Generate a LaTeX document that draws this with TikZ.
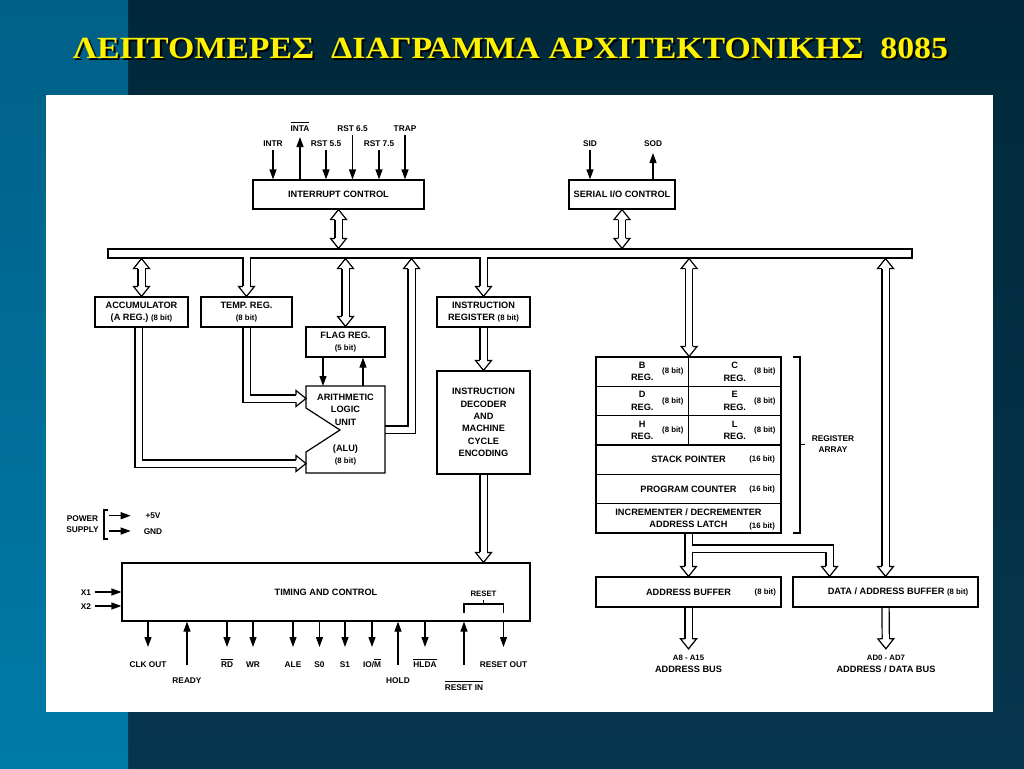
\documentclass[tikz,border=0pt]{standalone}
\usepackage{fontspec}
\usepackage{graphicx}
\usepackage{tikz}
\usetikzlibrary{arrows.meta,positioning}
\setsansfont{Liberation Sans}
\newfontfamily\titlefont{Liberation Serif}
\newcommand\lab{\sffamily\bfseries\fontsize{9.2}{12.4}\selectfont}
\newcommand\sgf{\sffamily\bfseries\fontsize{8.3}{11}\selectfont}
\newcommand\bitf{\fontsize{7.8}{9}\selectfont}
\newcommand\ovl[1]{\leavevmode\vbox{\hrule height 1pt\kern 1.8pt\hbox{#1}}}
\newcommand\titletext{\resizebox{875pt}{20.5pt}{\titlefont\bfseries ΛΕΠΤΟΜΕΡΕΣ\ \ ΔΙΑΓΡΑΜΜΑ ΑΡΧΙΤΕΚΤΟΝΙΚΗΣ\ \ 8085}}
\definecolor{navytop}{RGB}{0,40,58}
\definecolor{navybot}{RGB}{6,54,78}
\definecolor{striptop}{RGB}{0,96,136}
\definecolor{stripbot}{RGB}{0,122,168}
% open head for the double-line busses
\pgfdeclarearrow{
  name = Hollow,
  setup code = {
    \pgfarrowssettipend{0pt}
    \pgfarrowssetlineend{-10pt}
    \pgfarrowssetbackend{-10.6pt}
    \pgfarrowssetvisualbackend{-10pt}
    \pgfarrowsupperhullpoint{-10.6pt}{8.6pt}
    \pgfarrowsupperhullpoint{0pt}{0pt}
  },
  drawing code = {
    \pgfsetlinewidth{1.2pt}
    \pgfsetmiterjoin
    \pgfpathmoveto{\pgfqpoint{-10pt}{3.6pt}}
    \pgfpathlineto{\pgfqpoint{-10pt}{8pt}}
    \pgfpathlineto{\pgfqpoint{0pt}{0pt}}
    \pgfpathlineto{\pgfqpoint{-10pt}{-8pt}}
    \pgfpathlineto{\pgfqpoint{-10pt}{-3.6pt}}
    \pgfusepathqstroke
  }
}
\pgfdeclarelayer{bglayer}
\pgfdeclarelayer{edgelayer}
\pgfdeclarelayer{nodelayer}
\pgfsetlayers{bglayer,edgelayer,nodelayer,main}
\tikzstyle{box}=[draw=black, fill=white, line width=1.2pt, inner sep=1pt, align=center, font=\lab]
\tikzstyle{lbl}=[inner sep=0pt, align=center, font=\sgf]
\tikzstyle{sgl}=[inner sep=0pt, font=\sgf, text height=6pt, text depth=0pt]
\tikzstyle{bit}=[inner sep=0pt, font=\lab\bitf]
\tikzstyle{wire}=[draw=black, line width=1.2pt]
\tikzstyle{sig}=[draw=black, line width=1.2pt, -{Triangle[length=10pt,width=7pt]}]
\tikzstyle{pipe}=[draw=black, line width=1.2pt, double=white, double distance=6pt, -Hollow]
\tikzstyle{dbl}=[style=pipe, Hollow-Hollow]

\begin{document}
\begin{tikzpicture}[x=1pt, y=-1pt]
	\useasboundingbox (0, 0) rectangle (1024, 768);
	\begin{pgfonlayer}{bglayer}
		\shade [top color=navytop, bottom color=navybot] (0, 0) rectangle (1024, 768);
		\shade [top color=striptop, bottom color=stripbot] (0, 0) rectangle (128, 768);
		\fill [white] (46, 95) rectangle (993, 712);
		\node [inner sep=0pt, text=black] (shadow) at (512.5, 50) {\titletext};
		\node [inner sep=0pt, text=yellow] (title) at (510.5, 48) {\titletext};
	\end{pgfonlayer}
	\begin{pgfonlayer}{nodelayer}
		% interrupt and serial blocks
		\node [style=box, minimum width=171pt, minimum height=29pt] (ic) at (338.5, 194.5) {INTERRUPT CONTROL};
		\node [style=box, minimum width=106pt, minimum height=29pt] (sio) at (622, 194.5) {SERIAL I/O CONTROL};
		\node [style=sgl] (intr) at (273, 143) {INTR};
		\node [style=sgl] (inta) at (300, 128) {\ovl{INTA}};
		\node [style=sgl] (rst55) at (326, 143) {RST 5.5};
		\node [style=sgl] (rst65) at (352.5, 128) {RST 6.5};
		\node [style=sgl] (rst75) at (379, 143) {RST 7.5};
		\node [style=sgl] (trap) at (405, 128) {TRAP};
		\node [style=sgl] (sid) at (590, 143) {SID};
		\node [style=sgl] (sod) at (653, 143) {SOD};
		% accumulator, temp, flags, alu
		\node [style=box, minimum width=93pt, minimum height=30pt] (acc) at (141.5, 312) {ACCUMULATOR\\(A REG.) {\bitf (8 bit)}};
		\node [style=box, minimum width=91pt, minimum height=30pt] (temp) at (246.5, 312) {TEMP. REG.\\{\bitf (8 bit)}};
		\node [style=box, minimum width=79pt, minimum height=30pt] (flag) at (345.5, 342) {FLAG REG.\\{\bitf (5 bit)}};
		\node [style=box, draw=none, fill=none, outer sep=0pt, minimum width=79pt, minimum height=87pt] (alu) at (345.5, 429.5) {ARITHMETIC\\LOGIC\\UNIT\\[13.5pt](ALU)\\{\bitf (8 bit)}};
		\draw [style=wire] (alu.north west) -- (alu.north east) -- (alu.south east) -- (alu.south west) -- ++(0, -21) -- ++(34, -22) -- ++(-34, -22) -- cycle;
		% instruction path
		\node [style=box, minimum width=93pt, minimum height=30pt] (ir) at (483.5, 312) {INSTRUCTION\\REGISTER {\bitf (8 bit)}};
		\node [style=box, minimum width=93pt, minimum height=103pt] (dec) at (483.5, 422.5) {INSTRUCTION\\DECODER\\AND\\MACHINE\\CYCLE\\ENCODING};
		% register array
		\node [style=box, minimum width=92.5pt, minimum height=29.33pt] (regb) at (642.25, 371.67) {B\\REG.};
		\node [style=box, minimum width=92.5pt, minimum height=29.33pt] (regc) at (734.75, 371.67) {C\\REG.};
		\node [style=box, minimum width=92.5pt, minimum height=29.33pt] (regd) at (642.25, 401) {D\\REG.};
		\node [style=box, minimum width=92.5pt, minimum height=29.33pt] (rege) at (734.75, 401) {E\\REG.};
		\node [style=box, minimum width=92.5pt, minimum height=29.33pt] (regh) at (642.25, 430.33) {H\\REG.};
		\node [style=box, minimum width=92.5pt, minimum height=29.33pt] (regl) at (734.75, 430.33) {L\\REG.};
		\node [style=box, minimum width=185pt, minimum height=29.33pt] (sp) at (688.5, 459.67) {STACK POINTER};
		\node [style=box, minimum width=185pt, minimum height=29.33pt] (pc) at (688.5, 489) {PROGRAM COUNTER};
		\node [style=box, minimum width=185pt, minimum height=29.33pt] (inc) at (688.5, 518.33) {INCREMENTER / DECREMENTER\\ADDRESS LATCH};
		\node [style=bit, left=5.5pt of regb.east] (bitb) {(8 bit)};
		\node [style=bit, left=6pt of regc.east] (bitc) {(8 bit)};
		\node [style=bit, left=5.5pt of regd.east] (bitd) {(8 bit)};
		\node [style=bit, left=6pt of rege.east] (bite) {(8 bit)};
		\node [style=bit, left=5.5pt of regh.east] (bith) {(8 bit)};
		\node [style=bit, left=6pt of regl.east] (bitl) {(8 bit)};
		\node [style=bit, left=6.5pt of sp.east] (bitsp) {(16 bit)};
		\node [style=bit, left=6.5pt of pc.east] (bitpc) {(16 bit)};
		\node [style=bit, left=6.5pt of inc.east, yshift=-8.4pt] (bitinc) {(16 bit)};
		\node [style=lbl] (regarr) at (833, 444.5) {REGISTER\\ARRAY};
		\draw [style=wire] (793, 357) -| (800, 533) -- (793, 533) (800, 444.5) -- (805, 444.5);
		% buffers
		\node [style=box, minimum width=185pt, minimum height=30pt] (ab) at (688.5, 592) {ADDRESS BUFFER};
		\node [style=bit, left=5.5pt of ab.east] (bitab) {(8 bit)};
		\node [style=box, minimum width=185pt, minimum height=30pt] (dab) at (885.5, 592) {\hspace*{25pt}DATA / ADDRESS BUFFER {\bitf (8 bit)}};
		\node [inner sep=0pt, align=center, font=\lab] (abus) at (688.5, 664) {{\bitf A8 - A15}\\ADDRESS BUS};
		\node [inner sep=0pt, align=center, font=\lab] (dbus) at (886, 664) {{\bitf AD0 - AD7}\\ADDRESS / DATA BUS};
		% timing and control
		\node [style=box, minimum width=408pt, minimum height=58pt] (tc) at (326, 592) {TIMING AND CONTROL};
		\node [style=lbl, font=\sgf\bitf] (reset) at (483.5, 594) {RESET};
		\draw [style=wire] (464, 613) |- (503.5, 604) -- (503.5, 613) (483.5, 604) -- (483.5, 600);
		\node [style=lbl] (pwr) at (82.5, 524.5) {POWER\\SUPPLY};
		\draw [style=wire] (108, 510) -| (104, 539) -- (108, 539);
		\node [style=sgl] (vcc) at (153, 515.7) {+5V};
		\node [style=sgl] (gnd) at (153, 531) {GND};
		\node [style=sgl] (x1) at (86, 592) {X1};
		\node [style=sgl] (x2) at (86, 606) {X2};
		\node [style=sgl] (clkout) at (148, 664) {CLK OUT};
		\node [style=sgl] (ready) at (187, 680) {READY};
		\node [style=sgl] (rd) at (227, 664) {\ovl{RD}};
		\node [style=sgl] (wr) at (253, 664) {WR};
		\node [style=sgl] (ale) at (293, 664) {ALE};
		\node [style=sgl] (s0) at (319.5, 664) {S0};
		\node [style=sgl] (s1) at (345, 664) {S1};
		\node [style=sgl] (iom) at (372, 664) {IO/\ovl{M}};
		\node [style=sgl] (hold) at (398, 680) {HOLD};
		\node [style=sgl] (hlda) at (425, 664) {\ovl{HLDA}};
		\node [style=sgl] (rstin) at (464, 687) {\ovl{RESET IN}};
		\node [style=sgl] (rstout) at (503.5, 664) {RESET OUT};
	\end{pgfonlayer}
	\begin{pgfonlayer}{edgelayer}
		\node [style=wire, fill=white, inner sep=0pt, minimum width=804pt, minimum height=9pt] (bus) at (510, 253.5) {};
		\coordinate (alubus) at (411.5, 300);
		\coordinate (tempin) at (306, 398.5);
		\coordinate (accin) at (306, 463.5);
		\coordinate (latchtap) at (691.5, 548.5);
		\coordinate (dabin) at (829.5, 576.4);
		% internal bus
		\draw [style=dbl] (ic.south) to (ic.south |- bus.north);
		\draw [style=dbl] (sio.south) to (sio.south |- bus.north);
		\draw [style=dbl] (acc.north |- bus.south) to (acc.north);
		\draw [style=pipe, shorten <=-1.2pt] (temp.north |- bus.south) to (temp.north);
		\draw [style=dbl] (flag.north |- bus.south) to (flag.north);
		\draw [style=pipe] (alu.east) -| (alubus |- bus.south);
		\draw [style=pipe, shorten <=-1.2pt] (ir.north |- bus.south) to (ir.north);
		\draw [style=dbl] (regb.north east |- bus.south) to (regb.north east);
		\draw [style=dbl] (dab.north |- bus.south) to (dab.north);
		\draw [style=pipe] (temp.south) |- (tempin);
		\draw [style=pipe] ([xshift=-3pt]acc.south) |- (accin);
		\draw [style=pipe] (ir.south) to (dec.north);
		\draw [style=pipe] (dec.south) to (dec.south |- tc.north);
		\draw [style=pipe] (inc.south) to (ab.north);
		\draw [style=pipe] (latchtap) -| (dabin);
		\draw [style=pipe, shorten >=6pt] (ab.south) to (abus);
		\draw [style=pipe, shorten >=6pt] (dab.south) to (dbus);
		% single lines
		\draw [style=sig, shorten <=3.8pt] (intr) to (ic.north -| intr);
		\draw [style=sig, shorten >=5.8pt] (ic.north -| inta) to (inta);
		\draw [style=sig, shorten <=3.8pt] (rst55) to (ic.north -| rst55);
		\draw [style=sig, shorten <=3.8pt] (rst65) to (ic.north -| rst65);
		\draw [style=sig, shorten <=3.8pt] (rst75) to (ic.north -| rst75);
		\draw [style=sig, shorten <=3.8pt] (trap) to (ic.north -| trap);
		\draw [style=sig, shorten <=3.8pt] (sid) to (sio.north -| sid);
		\draw [style=sig, shorten >=6.8pt] (sio.north -| sod) to (sod);
		\draw [style=sig] ([xshift=-22.5pt]flag.south) to ([xshift=-22.5pt]alu.north);
		\draw [style=sig] ([xshift=17.5pt]alu.north) to ([xshift=17.5pt]flag.south);
		\draw [style=sig, shorten <=9.7pt, shorten >=14.6pt] (vcc -| pwr.east) to (vcc);
		\draw [style=sig, shorten <=9.7pt, shorten >=12.9pt] (gnd -| pwr.east) to (gnd);
		\draw [style=sig, shorten <=3.7pt] (x1) to (tc.west |- x1);
		\draw [style=sig, shorten <=3.7pt] (x2) to (tc.west |- x2);
		\draw [style=sig, shorten >=13.8pt] (tc.south -| clkout) to (clkout);
		\draw [style=sig, shorten <=11.8pt] (ready) to (tc.south -| ready);
		\draw [style=sig, shorten >=13.8pt] (tc.south -| rd) to (rd);
		\draw [style=sig, shorten >=13.8pt] (tc.south -| wr) to (wr);
		\draw [style=sig, shorten >=13.8pt] (tc.south -| ale) to (ale);
		\draw [style=sig, shorten >=13.8pt] (tc.south -| s0) to (s0);
		\draw [style=sig, shorten >=13.8pt] (tc.south -| s1) to (s1);
		\draw [style=sig, shorten >=13.8pt] (tc.south -| iom) to (iom);
		\draw [style=sig, shorten <=11.8pt] (hold) to (tc.south -| hold);
		\draw [style=sig, shorten >=13.8pt] (tc.south -| hlda) to (hlda);
		\draw [style=sig, shorten <=18.8pt] (rstin) to (tc.south -| rstin);
		\draw [style=sig, shorten >=13.8pt] (tc.south -| rstout) to (rstout);
	\end{pgfonlayer}
\end{tikzpicture}
\end{document}
